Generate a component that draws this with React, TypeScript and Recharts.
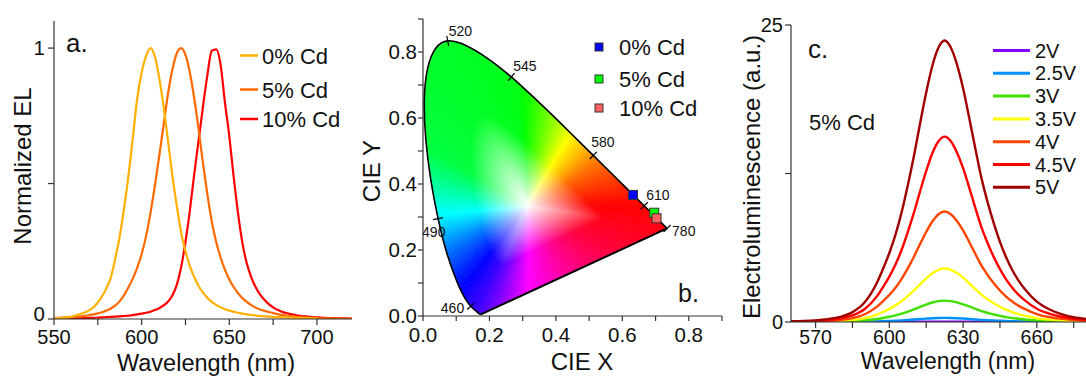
import React from 'react';
import { LineChart, Line, XAxis, YAxis, ScatterChart, Scatter } from 'recharts';

const FONT = "'Liberation Sans', Arial, sans-serif";
const AXIS_COLOR = '#333';

// ---------- a. normalized EL ----------
const wavelengthA = [
  550, 552.5, 555, 557.5, 560, 562.5, 565, 567.5, 570, 572.5,
  575, 577.5, 580, 582.5, 585, 587.5, 590, 592.5, 595, 597.5,
  600, 602.5, 605, 607.5, 610, 612.5, 615, 617.5, 620, 622.5,
  625, 627.5, 630, 632.5, 635, 637.5, 640, 642.5, 645, 647.5,
  650, 652.5, 655, 657.5, 660, 662.5, 665, 667.5, 670, 672.5,
  675, 677.5, 680, 682.5, 685, 687.5, 690, 692.5, 695, 697.5,
  700, 702.5, 705, 707.5, 710, 712.5, 715, 717.5, 720,
];
const el0 = [
  0.002, 0.003, 0.004, 0.006, 0.009, 0.013, 0.018, 0.024, 0.032, 0.043,
  0.062, 0.085, 0.115, 0.155, 0.225, 0.305, 0.41, 0.53, 0.67, 0.815,
  0.91, 0.97, 1.0, 0.97, 0.89, 0.785, 0.66, 0.53, 0.42, 0.32,
  0.25, 0.195, 0.155, 0.122, 0.097, 0.078, 0.063, 0.052, 0.043, 0.036,
  0.031, 0.027, 0.023, 0.02, 0.017, 0.015, 0.013, 0.011, 0.01, 0.009,
  0.008, 0.007, 0.006, 0.0055, 0.005, 0.0045, 0.004, 0.0035, 0.003, 0.0025,
  0.002, null, null, null, null, null, null, null, null,
];
const el5 = [
  0.003, 0.004, 0.005, 0.006, 0.007, 0.008, 0.009, 0.011, 0.014, 0.017,
  0.021, 0.025, 0.031, 0.039, 0.05, 0.066, 0.088, 0.117, 0.15, 0.19,
  0.24, 0.305, 0.39, 0.49, 0.6, 0.715, 0.83, 0.92, 0.98, 1.0,
  0.975, 0.91, 0.815, 0.7, 0.575, 0.46, 0.36, 0.285, 0.228, 0.182,
  0.146, 0.118, 0.095, 0.077, 0.063, 0.051, 0.042, 0.035, 0.03, 0.026,
  0.022, 0.018, 0.015, 0.013, 0.011, 0.009, 0.007, 0.006, 0.005, 0.004,
  0.003, 0.0025, 0.002, 0.002, 0.0015, 0.0015, 0.001, 0.001, 0.001,
];
const el10 = [
  0.001, 0.001, 0.0015, 0.002, 0.002, 0.0025, 0.003, 0.003, 0.004, 0.004,
  0.005, 0.006, 0.007, 0.008, 0.009, 0.01, 0.011, 0.012, 0.014, 0.017,
  0.02, 0.023, 0.027, 0.033, 0.04, 0.05, 0.064, 0.087, 0.125, 0.19,
  0.285, 0.4, 0.535, 0.66, 0.785, 0.9, 0.99, 0.995, 0.94, 0.8,
  0.675, 0.525, 0.39, 0.28, 0.205, 0.155, 0.118, 0.091, 0.071, 0.055,
  0.043, 0.034, 0.027, 0.022, 0.018, 0.015, 0.012, 0.01, 0.009, 0.007,
  0.006, 0.005, 0.004, 0.0035, 0.003, 0.0025, 0.002, 0.002, 0.0015,
];
const cdNames = ['0% Cd', '5% Cd', '10% Cd'];
const cdColors = ['#FFB000', '#FF6A00', '#FF0000'];

const tableA = wavelengthA.map((wl, i) => ({ wl, cd0: el0[i], cd5: el5[i], cd10: el10[i] }));

// ---------- b. CIE 1931 ----------
const locusWl = [
  380, 430, 440, 450, 455, 460, 465, 470, 475, 480,
  485, 490, 495, 500, 505, 510, 515, 520, 525, 530,
  535, 540, 545, 550, 555, 560, 565, 570, 575, 580,
  585, 590, 595, 600, 605, 610, 615, 620, 625, 630,
  635, 640, 645, 650, 660, 670, 680, 700,
];
const locusX = [
  0.1741, 0.1689, 0.1644, 0.1566, 0.151, 0.144, 0.1355, 0.1241, 0.1096, 0.0913,
  0.0687, 0.0454, 0.0235, 0.0082, 0.0039, 0.0139, 0.0389, 0.0743, 0.1142, 0.1547,
  0.1929, 0.2296, 0.2658, 0.3016, 0.3373, 0.3731, 0.4087, 0.4441, 0.4788, 0.5125,
  0.5448, 0.5752, 0.6029, 0.627, 0.6482, 0.6658, 0.6801, 0.6915, 0.7006, 0.7079,
  0.714, 0.719, 0.723, 0.726, 0.73, 0.732, 0.7334, 0.7347,
];
const locusY = [
  0.005, 0.0069, 0.0109, 0.0177, 0.0227, 0.0297, 0.0399, 0.0578, 0.0868, 0.1327,
  0.2007, 0.295, 0.4127, 0.5384, 0.6548, 0.7502, 0.812, 0.8338, 0.8262, 0.8059,
  0.7816, 0.7543, 0.7243, 0.6923, 0.6589, 0.6245, 0.5896, 0.5547, 0.5202, 0.4866,
  0.4544, 0.4242, 0.3965, 0.3725, 0.3514, 0.334, 0.3197, 0.3083, 0.2993, 0.292,
  0.2859, 0.2809, 0.277, 0.274, 0.27, 0.268, 0.2666, 0.2653,
];
const whitePoint = { x: 0.315, y: 0.333 };
const markWl = [460, 490, 520, 545, 580, 610, 780];
const sampleX = [0.632, 0.696, 0.703];
const sampleY = [0.367, 0.313, 0.296];
const sampleColors = ['#0000FF', '#00FF00', '#FF6060'];

const locusData = locusWl.map((wl, i) => ({ x: locusX[i], y: locusY[i], wl }));
const gamutData = [whitePoint, ...locusData];
const purpleData = [locusData[locusData.length - 1], locusData[0]];
const markData = markWl.map((wl) => {
  const idx = wl === 780 ? locusWl.length - 1 : locusWl.indexOf(wl);
  return { x: locusX[idx], y: locusY[idx], wl, idx };
});

// ---------- c. EL vs voltage (5% Cd) ----------
const wavelengthC = [
  560, 565, 570, 575, 580, 585, 590,
  595, 597.5, 600, 602.5, 605, 607.5, 610, 612.5, 615, 617.5, 620, 622.5,
  625, 627.5, 630, 632.5, 635, 637.5, 640, 642.5, 645, 647.5, 650, 652.5, 655,
  660, 665, 670, 675, 680,
];
const v2 = [
  0, 0, 0, 0, 0.001, 0.001, 0.002,
  0.004, 0.006, 0.007, 0.009, 0.012, 0.015, 0.018, 0.021, 0.024, 0.027, 0.029, 0.03,
  0.029, 0.027, 0.025, 0.022, 0.018, 0.015, 0.013, 0.011, 0.009, 0.007, 0.006, 0.004, 0.004,
  0.002, 0.001, 0.001, 0, 0,
];
const v25 = [
  0.001, 0.001, 0.002, 0.004, 0.006, 0.012, 0.025,
  0.049, 0.067, 0.086, 0.109, 0.137, 0.17, 0.207, 0.247, 0.285, 0.319, 0.341, 0.35,
  0.341, 0.32, 0.291, 0.254, 0.215, 0.179, 0.149, 0.123, 0.1, 0.081, 0.065, 0.052, 0.041,
  0.025, 0.016, 0.01, 0.006, 0.004,
];
const v3 = [
  0.005, 0.007, 0.011, 0.018, 0.032, 0.063, 0.126,
  0.25, 0.34, 0.44, 0.56, 0.7, 0.87, 1.06, 1.27, 1.47, 1.64, 1.76, 1.8,
  1.76, 1.65, 1.49, 1.31, 1.11, 0.92, 0.77, 0.63, 0.51, 0.41, 0.33, 0.27, 0.21,
  0.13, 0.08, 0.05, 0.03, 0.02,
];
const v35 = [
  0.01, 0.02, 0.03, 0.05, 0.08, 0.16, 0.32,
  0.63, 0.86, 1.1, 1.4, 1.76, 2.18, 2.66, 3.17, 3.67, 4.1, 4.39, 4.5,
  4.39, 4.12, 3.74, 3.26, 2.77, 2.3, 1.91, 1.58, 1.28, 1.04, 0.83, 0.67, 0.53,
  0.32, 0.2, 0.13, 0.08, 0.05,
];
const v4 = [
  0.03, 0.04, 0.06, 0.09, 0.17, 0.33, 0.65,
  1.3, 1.77, 2.28, 2.88, 3.63, 4.51, 5.49, 6.56, 7.58, 8.46, 9.07, 9.3,
  9.07, 8.51, 7.72, 6.74, 5.72, 4.74, 3.95, 3.26, 2.65, 2.14, 1.72, 1.38, 1.1,
  0.67, 0.42, 0.26, 0.16, 0.1,
];
const v45 = [
  0.05, 0.06, 0.09, 0.16, 0.28, 0.55, 1.09,
  2.18, 2.96, 3.82, 4.84, 6.08, 7.57, 9.2, 11.0, 12.71, 14.2, 15.21, 15.6,
  15.21, 14.27, 12.95, 11.31, 9.59, 7.96, 6.63, 5.46, 4.45, 3.59, 2.89, 2.31, 1.84,
  1.12, 0.7, 0.44, 0.27, 0.17,
];
const v5 = [
  0.07, 0.09, 0.14, 0.24, 0.43, 0.83, 1.66,
  3.32, 4.5, 5.81, 7.35, 9.24, 11.49, 13.98, 16.71, 19.32, 21.57, 23.11, 23.7,
  23.11, 21.69, 19.67, 17.18, 14.58, 12.09, 10.07, 8.3, 6.75, 5.45, 4.38, 3.51, 2.8,
  1.71, 1.07, 0.66, 0.4, 0.26,
];
const voltNames = ['2V', '2.5V', '3V', '3.5V', '4V', '4.5V', '5V'];
const voltValues = [v2, v25, v3, v35, v4, v45, v5];
const voltColors = ['#8000FF', '#0090FF', '#40E000', '#FFFF00', '#FF4500', '#FF0000', '#A00000'];

const tableC = wavelengthC.map((wl, i) => {
  const row: Record<string, number> = { wl };
  voltValues.forEach((vals, k) => { row['v' + k] = vals[i]; });
  return row;
});

// ---------- helpers ----------
const tickStyle = (size: number) => ({ fill: '#111', fontSize: size, fontFamily: FONT });
const lineStyle = { stroke: AXIS_COLOR, strokeWidth: 1.2 };
const blank = () => '';
const noDot = () => <g />;

// y ticks of panel a: "0" nudged up a little so it clears the "550" below it
const YTickA = (props: any) => {
  const { x, y, payload } = props;
  const v = payload.value;
  if (v === 0.5) return <g />;
  return (
    <text x={x} y={y + (v === 0 ? -5 : 0)} dy="0.355em" textAnchor="end" fontSize={20.5} fontFamily={FONT} fill="#111">
      {String(v)}
    </text>
  );
};

// hue by angle around the white point (angle in degrees -> hue)
const HUE_STOPS = [
  [0, 0], [30, 25], [58, 58], [75, 90], [95, 125], [150, 135], [185, 180],
  [207, 210], [227, 235], [245, 255], [270, 300], [300, 325], [330, 345], [360, 360],
];
function hueAt(t: number) {
  for (let i = 0; i < HUE_STOPS.length - 1; i++) {
    const [a0, h0] = HUE_STOPS[i];
    const [a1, h1] = HUE_STOPS[i + 1];
    if (t <= a1) return h0 + ((t - a0) / (a1 - a0)) * (h1 - h0);
  }
  return 0;
}

// fan of small wedges from the white point to the locus, each white -> hue
const renderGamut = (props: any) => {
  const pts: { x: number; y: number }[] = props.points || [];
  if (pts.length < 4) return <g />;
  const w = pts[0];
  const ring = pts.slice(1);
  const ang = (p: { x: number; y: number }) =>
    ((Math.atan2(w.y - p.y, p.x - w.x) * 180) / Math.PI + 360) % 360;
  const defs: React.ReactNode[] = [];
  const wedges: React.ReactNode[] = [];
  let n = 0;
  for (let i = 0; i < ring.length; i++) {
    const a = ring[i];
    const b = ring[(i + 1) % ring.length];
    let d = ang(b) - ang(a);
    d = ((d + 540) % 360) - 180;
    const k = Math.max(1, Math.ceil(Math.abs(d) / 2));
    for (let j = 0; j < k; j++) {
      const p = { x: a.x + ((b.x - a.x) * j) / k, y: a.y + ((b.y - a.y) * j) / k };
      const q = { x: a.x + ((b.x - a.x) * (j + 1)) / k, y: a.y + ((b.y - a.y) * (j + 1)) / k };
      const m = { x: (p.x + q.x) / 2, y: (p.y + q.y) / 2 };
      const col = `hsl(${hueAt(ang(m)).toFixed(1)},100%,50%)`;
      const id = `cie-w-${n++}`;
      defs.push(
        <linearGradient key={id} id={id} gradientUnits="userSpaceOnUse" x1={w.x} y1={w.y} x2={m.x} y2={m.y}>
          <stop offset="0" stopColor="#ffffff" />
          <stop offset="0.55" stopColor={col} />
          <stop offset="1" stopColor={col} />
        </linearGradient>
      );
      wedges.push(
        <path
          key={id}
          d={`M${w.x},${w.y}L${p.x},${p.y}L${q.x},${q.y}Z`}
          fill={`url(#${id})`}
          stroke={`url(#${id})`}
          strokeWidth={0.8}
          strokeLinejoin="round"
        />
      );
    }
  }
  return (
    <g>
      <defs>{defs}</defs>
      {wedges}
    </g>
  );
};

const markLabelOffset: Record<number, [number, number]> = {
  460: [-30, 7], 490: [-16, 18], 520: [1, -5], 545: [2, -6], 580: [-2, -8], 610: [2, -6], 780: [5, 8],
};
const renderMark = (props: any) => {
  const { cx, cy, payload } = props;
  const i = payload.idx;
  const i0 = Math.max(0, i - 1);
  const i1 = Math.min(locusX.length - 1, i + 1);
  const tx = locusX[i1] - locusX[i0];
  const ty = -(locusY[i1] - locusY[i0]);
  const len = Math.hypot(tx, ty) || 1;
  const nx = -ty / len;
  const ny = tx / len;
  const h = 5;
  const off = markLabelOffset[payload.wl] || [4, -4];
  return (
    <g>
      <line x1={cx - nx * h} y1={cy - ny * h} x2={cx + nx * h} y2={cy + ny * h} stroke="#000" strokeWidth={1.2} />
      <text x={cx + off[0]} y={cy + off[1]} fontSize={14} fontFamily={FONT} fill="#111">
        {payload.wl}
      </text>
    </g>
  );
};
const squareShape = (color: string) => (props: any) => (
  <rect x={props.cx - 4.5} y={props.cy - 4.5} width={9} height={9} fill={color} stroke="#333" strokeWidth={1} />
);

const cieTicks = [0, 0.1, 0.2, 0.3, 0.4, 0.5, 0.6, 0.7, 0.8, 0.9];
const cieFormat = (v: number) => {
  const t = Math.round(v * 10);
  return t % 2 === 0 && t < 9 ? v.toFixed(1) : '';
};

// ---------- panels ----------
function PanelA() {
  const xTicks = [550, 575, 600, 625, 650, 675, 700];
  return (
    <LineChart width={360} height={376} data={tableA} margin={{ top: 21, right: 8, bottom: 0, left: 0 }}>
      <XAxis
        dataKey="wl" type="number" domain={[550, 720]} ticks={xTicks} allowDataOverflow
        tickFormatter={(v: number) => (v % 50 === 0 ? String(v) : '')}
        height={57} tickSize={6} tickMargin={5} axisLine={lineStyle} tickLine={lineStyle} tick={tickStyle(20)}
      />
      <XAxis
        xAxisId="top" orientation="top" dataKey="wl" type="number" domain={[550, 720]} ticks={xTicks}
        allowDataOverflow tickFormatter={blank} height={0} tickSize={6} axisLine={lineStyle} tickLine={lineStyle}
      />
      <YAxis
        type="number" domain={[0, 1.1]} ticks={[0, 0.5, 1]} allowDataOverflow
        width={54} tickSize={6} tickMargin={3} axisLine={lineStyle} tickLine={lineStyle} tick={<YTickA />}
      />
      <YAxis
        yAxisId="right" orientation="right" type="number" domain={[0, 1.1]} ticks={[0, 0.5, 1]} allowDataOverflow
        tickFormatter={blank} width={0} tickSize={6} axisLine={lineStyle} tickLine={lineStyle}
      />
      {[2, 1, 0].map((k) => (
        <Line
          key={k} dataKey={['cd0', 'cd5', 'cd10'][k]} name={cdNames[k]} type="monotone" stroke={cdColors[k]}
          strokeWidth={2.2} dot={false} isAnimationActive={false}
        />
      ))}
    </LineChart>
  );
}

function PanelB() {
  return (
    <ScatterChart width={370} height={376} margin={{ top: 19, right: 8, bottom: 0, left: 0 }}>
      <XAxis
        dataKey="x" type="number" domain={[0, 0.9]} ticks={cieTicks} allowDataOverflow tickFormatter={cieFormat}
        height={60} tickSize={5} tickMargin={6} axisLine={lineStyle} tickLine={lineStyle} tick={tickStyle(20.5)}
      />
      <XAxis
        xAxisId="top" orientation="top" dataKey="x" type="number" domain={[0, 0.9]} ticks={cieTicks}
        allowDataOverflow tickFormatter={blank} height={0} tickSize={5} axisLine={lineStyle} tickLine={lineStyle}
      />
      <YAxis
        dataKey="y" type="number" domain={[0, 0.9]} ticks={cieTicks} allowDataOverflow tickFormatter={cieFormat}
        width={63} tickSize={5} tickMargin={1} axisLine={lineStyle} tickLine={lineStyle} tick={tickStyle(20.5)}
      />
      <YAxis
        yAxisId="right" orientation="right" dataKey="y" type="number" domain={[0, 0.9]} ticks={cieTicks}
        allowDataOverflow tickFormatter={blank} width={0} tickSize={5} axisLine={lineStyle} tickLine={lineStyle}
      />
      <Scatter data={gamutData} line={renderGamut} lineType="joint" shape={noDot} isAnimationActive={false} />
      <Scatter
        data={locusData} line={{ stroke: '#000', strokeWidth: 1.6 }} lineJointType="natural"
        shape={noDot} isAnimationActive={false}
      />
      <Scatter data={purpleData} line={{ stroke: '#000', strokeWidth: 2 }} shape={noDot} isAnimationActive={false} />
      <Scatter data={markData} shape={renderMark} isAnimationActive={false} />
      {sampleX.map((x, i) => (
        <Scatter
          key={cdNames[i]} name={cdNames[i]} data={[{ x, y: sampleY[i] }]}
          shape={squareShape(sampleColors[i])} isAnimationActive={false}
        />
      ))}
    </ScatterChart>
  );
}

function PanelC() {
  const xTicks = [570, 585, 600, 615, 630, 645, 660, 675];
  return (
    <LineChart width={356} height={376} data={tableC} margin={{ top: 25, right: 0, bottom: 0, left: 0 }}>
      <XAxis
        dataKey="wl" type="number" domain={[560, 680]} ticks={xTicks} allowDataOverflow
        tickFormatter={(v: number) => (v % 30 === 0 ? String(v) : '')}
        height={54} tickSize={6} tickMargin={2} axisLine={lineStyle} tickLine={lineStyle} tick={tickStyle(19.5)}
      />
      <XAxis
        xAxisId="top" orientation="top" dataKey="wl" type="number" domain={[560, 680]} ticks={xTicks}
        allowDataOverflow tickFormatter={blank} height={0} tickSize={6} axisLine={lineStyle} tickLine={lineStyle}
      />
      <YAxis
        type="number" domain={[0, 25]} ticks={[0, 12.5, 25]} allowDataOverflow
        tickFormatter={(v: number) => (v === 12.5 ? '' : String(v))}
        width={61} tickSize={6} tickMargin={2} axisLine={lineStyle} tickLine={lineStyle} tick={tickStyle(20)}
      />
      <YAxis
        yAxisId="right" orientation="right" type="number" domain={[0, 25]} ticks={[0, 12.5, 25]} allowDataOverflow
        tickFormatter={blank} width={0} tickSize={6} axisLine={lineStyle} tickLine={lineStyle}
      />
      {voltNames.map((name, k) => (
        <Line
          key={name} dataKey={'v' + k} name={name} type="monotone" stroke={voltColors[k]}
          strokeWidth={2.4} dot={false} isAnimationActive={false}
        />
      ))}
    </LineChart>
  );
}

function Annotations() {
  const legA = [55.5, 89.5, 119];
  const legB = [47, 79, 108];
  const legC = [50.5, 73.3, 96.1, 118.9, 141.7, 164.5, 187.3];
  return (
    <svg
      width={1086} height={376}
      style={{ position: 'absolute', left: 0, top: 0, pointerEvents: 'none' }}
      fontFamily={FONT} fill="#111"
    >
      {/* a */}
      <text x={31} y={166} fontSize={24} textAnchor="middle" transform="rotate(-90 31 166)">Normalized EL</text>
      <text x={206} y={370.5} fontSize={23.5} textAnchor="middle">Wavelength (nm)</text>
      <text x={66} y={52} fontSize={26}>a.</text>
      {cdNames.map((n, i) => (
        <g key={n}>
          <line x1={240} x2={258} y1={legA[i]} y2={legA[i]} stroke={cdColors[i]} strokeWidth={2.5} />
          <text x={262} y={legA[i] + 8} fontSize={22}>{n}</text>
        </g>
      ))}
      {/* b */}
      <text x={380} y={171} fontSize={24} textAnchor="middle" transform="rotate(-90 380 171)">CIE Y</text>
      <text x={582} y={370} fontSize={24} textAnchor="middle">CIE X</text>
      <text x={678} y={302} fontSize={25}>b.</text>
      {cdNames.map((n, i) => (
        <g key={n}>
          <rect x={595} y={legB[i] - 4} width={8} height={8} fill={sampleColors[i]} stroke="#333" strokeWidth={1} />
          <text x={619} y={legB[i] + 8} fontSize={22}>{n}</text>
        </g>
      ))}
      {/* c */}
      <text x={760} y={177} fontSize={24} textAnchor="middle" transform="rotate(-90 760 177)">
        Electroluminescence (a.u.)
      </text>
      <text x={948} y={369} fontSize={23} textAnchor="middle">Wavelength (nm)</text>
      <text x={808} y={58} fontSize={26}>c.</text>
      <text x={809} y={130} fontSize={22}>5% Cd</text>
      {voltNames.map((n, i) => (
        <g key={n}>
          <line x1={993} x2={1030} y1={legC[i]} y2={legC[i]} stroke={voltColors[i]} strokeWidth={3} />
          <text x={1035} y={legC[i] + 7} fontSize={20}>{n}</text>
        </g>
      ))}
    </svg>
  );
}

export default function App() {
  return (
    <div
      style={{
        position: 'absolute', left: 0, top: 0, width: 1086, height: 376,
        overflow: 'hidden', background: '#fff', fontFamily: FONT,
      }}
    >
      <div style={{ position: 'absolute', left: 0, top: 0 }}><PanelA /></div>
      <div style={{ position: 'absolute', left: 360, top: 0 }}><PanelB /></div>
      <div style={{ position: 'absolute', left: 730, top: 0 }}><PanelC /></div>
      <Annotations />
    </div>
  );
}
